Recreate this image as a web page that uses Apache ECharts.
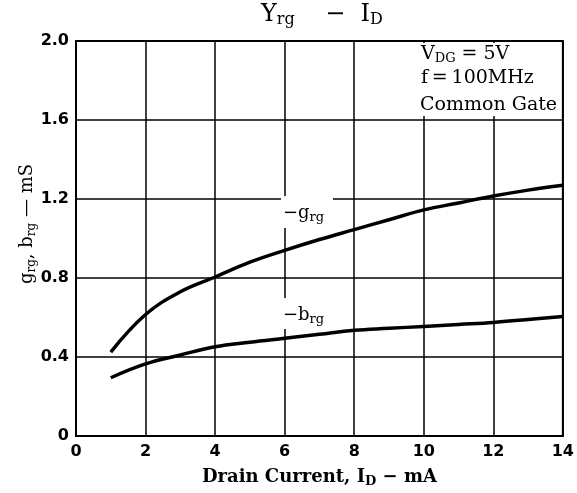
<!DOCTYPE html>
<html>
<head>
<meta charset="utf-8">
<script src="https://cdn.jsdelivr.net/npm/echarts@6/dist/echarts.min.js"></script>
<style>
  html, body { margin: 0; padding: 0; background: #fff; }
  #chart { width: 577px; height: 493px; }
</style>
</head>
<body>
<div id="chart"></div>
<script>
// drain current (mA)
const currentMa = [1, 2, 3, 4, 5, 6, 7, 8, 9, 10, 11, 12, 13, 14]
// g_rg and b_rg (mS)
const grgValues = [0.425, 0.615, 0.73, 0.805, 0.88, 0.94, 0.995, 1.045, 1.095, 1.145, 1.18, 1.215, 1.245, 1.27]
const brgValues = [0.295, 0.365, 0.41, 0.452, 0.475, 0.495, 0.515, 0.535, 0.545, 0.555, 0.565, 0.575, 0.59, 0.605]

const xTicks = [0, 2, 4, 6, 8, 10, 12, 14]
const yTicks = [0, 0.4, 0.8, 1.2, 1.6, 2.0]

const serif = '"DejaVu Serif", "Liberation Serif", serif'
const sans = '"DejaVu Sans", sans-serif'

const toPairs = (xs, ys) => xs.map((x, i) => [x, ys[i]])

const subRich = (size, sub, drop) => ({
  n: { fontFamily: serif, fontSize: size, color: '#000' },
  s: { fontFamily: serif, fontSize: sub, color: '#000', padding: [drop, 0, 0, 0] },
})

const chart = echarts.init(document.getElementById('chart'))

const option = {
  animation: false,
  backgroundColor: '#fff',
  grid: {
    left: 76,
    right: 14,
    top: 41,
    bottom: 53,
    show: true,
    borderColor: '#000',
    borderWidth: 2,
  },
  xAxis: {
    type: 'value',
    min: xTicks[0],
    max: xTicks[xTicks.length - 1],
    interval: 2,
    name: '{n|Drain Current, I}{s|D}{n| − mA}',
    nameLocation: 'middle',
    nameGap: 30,
    nameTextStyle: {
      rich: {
        n: { fontFamily: serif, fontSize: 18, fontWeight: 'bold', color: '#000' },
        s: { fontFamily: serif, fontSize: 13, fontWeight: 'bold', color: '#000', padding: [9, 0, 0, 0] },
      },
    },
    axisLine: { show: true, lineStyle: { color: '#000', width: 2 } },
    axisTick: { show: false },
    axisLabel: {
      margin: 8,
      fontFamily: sans,
      fontWeight: 'bold',
      fontSize: 16,
      color: '#000',
    },
    splitLine: { show: true, lineStyle: { color: '#000', width: 1.5 } },
  },
  yAxis: {
    type: 'value',
    min: yTicks[0],
    max: yTicks[yTicks.length - 1],
    interval: 0.4,
    axisLine: { show: true, lineStyle: { color: '#000', width: 2 } },
    axisTick: { show: false },
    axisLabel: {
      margin: 7,
      fontFamily: sans,
      fontWeight: 'bold',
      fontSize: 16,
      color: '#000',
      formatter: v => (v === 0 ? '0' : v.toFixed(1)),
    },
    splitLine: { show: true, lineStyle: { color: '#000', width: 1.5 } },
  },
  series: [
    {
      name: 'grg',
      type: 'line',
      data: toPairs(currentMa, grgValues),
      smooth: 0.4,
      showSymbol: false,
      lineStyle: { color: '#000', width: 3.5 },
      z: 5,
    },
    {
      name: 'brg',
      type: 'line',
      data: toPairs(currentMa, brgValues),
      smooth: 0.4,
      showSymbol: false,
      lineStyle: { color: '#000', width: 3.5 },
      z: 5,
    },
  ],
  graphic: [
    {
      type: 'text',
      x: 261,
      y: 2,
      style: {
        text: '{n|Y}{s|rg}{n|    −  I}{s|D}',
        rich: subRich(24, 16, 10),
      },
    },
    {
      type: 'text',
      x: 27,
      y: 224,
      rotation: Math.PI / 2,
      style: {
        text: '{n|g}{s|rg}{n|, b}{s|rg}{n| — mS}',
        rich: subRich(18, 12, 9),
        align: 'center',
        verticalAlign: 'middle',
      },
    },
    {
      type: 'rect',
      shape: { x: 364, y: 43, width: 197, height: 73 },
      style: { fill: '#fff' },
      z: 10,
    },
    {
      type: 'text',
      x: 421,
      y: 44,
      z: 11,
      style: {
        text: '{n|V}{s|DG}{n| = 5V}',
        rich: subRich(19, 13, 8),
      },
    },
    {
      type: 'text',
      x: 421,
      y: 69,
      z: 11,
      style: { text: 'f\u2009=\u2009100MHz', font: '19px ' + serif, fill: '#000' },
    },
    {
      type: 'text',
      x: 420,
      y: 96,
      z: 11,
      style: { text: 'Common Gate', font: '19px ' + serif, fill: '#000' },
    },
    {
      type: 'rect',
      shape: { x: 281, y: 196, width: 52, height: 32 },
      style: { fill: '#fff' },
      z: 3,
    },
    {
      type: 'text',
      x: 283,
      y: 202,
      z: 4,
      style: {
        text: '{n|−g}{s|rg}',
        rich: subRich(18, 13, 9),
      },
    },
    {
      type: 'rect',
      shape: { x: 281, y: 298, width: 52, height: 31 },
      style: { fill: '#fff' },
      z: 3,
    },
    {
      type: 'text',
      x: 283,
      y: 304,
      z: 4,
      style: {
        text: '{n|−b}{s|rg}',
        rich: subRich(18, 13, 9),
      },
    },
  ],
}

chart.setOption(option)
</script>
</body>
</html>
